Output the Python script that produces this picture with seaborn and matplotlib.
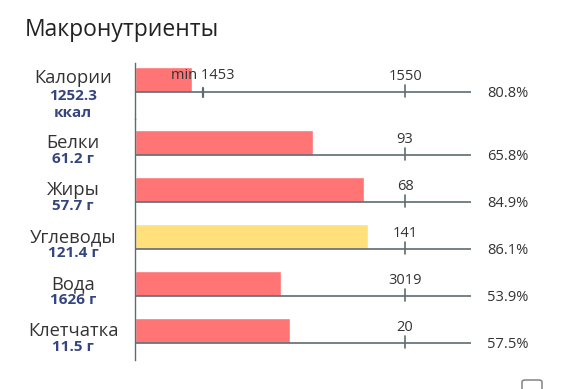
import matplotlib
matplotlib.use("Agg")
import matplotlib.pyplot as plt
import matplotlib.patches as mpatches
import pandas as pd
import seaborn as sns

# Data
nutrients = ["Калории", "Белки", "Жиры", "Углеводы", "Вода", "Клетчатка"]
amounts = ["1252.3\nккал", "61.2 г", "57.7 г", "121.4 г", "1626 г", "11.5 г"]
norms = ["1550", "93", "68", "141", "3019", "20"]
bar_pct = [21.1, 65.8, 84.9, 86.1, 53.9, 57.5]   # bar length, % of norm
pct_labels = ["80.8%", "65.8%", "84.9%", "86.1%", "53.9%", "57.5%"]
bar_kind = ["low", "low", "low", "ok", "low", "low"]
calorie_min = "min 1453"
calorie_min_pct = 25.2

RED = "#ff7474"
YELLOW = "#ffe07a"
LINE = "#5f6b73"
TEXT = "#333333"
BLUE = "#34457f"
PALETTE = {"low": RED, "ok": YELLOW}

sns.set_theme(style="white")
plt.rcParams["font.family"] = ["Open Sans", "DejaVu Sans"]

W, H = 571, 389
fig = plt.figure(figsize=(W / 100, H / 100), dpi=100)

df = pd.DataFrame({"name": nutrients, "amount": amounts, "norm": norms,
                   "pct": bar_pct, "label": pct_labels, "kind": bar_kind})

BAR_W = 25 / 47
X_MAX = 124.4


def px_axes(top, bottom):
    left, right = 135, 471
    return fig.add_axes([left / W, 1 - bottom / H, (right - left) / W, (bottom - top) / H])


ax_top = px_axes(63, 119)
ax_bot = px_axes(119, 360)

parts = [(ax_top, df.iloc[:1].reset_index(drop=True), (0.84, -0.351)),
         (ax_bot, df.iloc[1:].reset_index(drop=True), (4.62, -0.5))]

for ax, sub, ylim in parts:
    sns.barplot(data=sub, x="pct", y="name", hue="kind", palette=PALETTE,
                order=list(sub["name"]), orient="h", width=BAR_W, dodge=False,
                legend=False, ax=ax, saturation=1)
    ax.set_xlim(0, X_MAX)
    ax.set_ylim(*ylim)
    ax.set_xlabel("")
    ax.set_ylabel("")
    ax.set_xticks([])
    ax.set_yticks([])
    ax.set_facecolor("none")
    for s in ["top", "right", "bottom"]:
        ax.spines[s].set_visible(False)
    ax.spines["left"].set_color(LINE)
    ax.spines["left"].set_linewidth(1.0)
    ax.spines["left"].set_zorder(5)

    ytr = ax.get_yaxis_transform()
    for i, row in sub.iterrows():
        base = i + BAR_W / 2
        ax.axhline(base, color=LINE, lw=1.2, zorder=1)
        ax.plot([100, 100], [base - 7 / 47, base + 5 / 47], color=LINE, lw=1.2, zorder=1)
        ax.annotate(row["norm"], xy=(100, base), xytext=(0, 16), textcoords="offset pixels",
                    ha="center", va="center", fontsize=10.5, color=TEXT)
        ax.annotate(row["label"], xy=(1, base), xycoords=ytr, xytext=(16, -1),
                    textcoords="offset pixels", ha="left", va="center",
                    fontsize=10.5, color=TEXT, annotation_clip=False)
        dy = 14 if "\n" in row["amount"] else 12
        ax.annotate(row["name"], xy=(0, base), xycoords=ytr, xytext=(-62, dy),
                    textcoords="offset pixels", ha="center", va="center",
                    fontsize=13.2, color=TEXT, annotation_clip=False)
        ax.annotate(row["amount"], xy=(0, base), xycoords=ytr, xytext=(-62, 3),
                    textcoords="offset pixels", ha="center", va="top",
                    fontsize=11, fontweight="bold", color=BLUE,
                    linespacing=1.25, annotation_clip=False)

# min marker on the calories row
base0 = BAR_W / 2
ax_top.plot([calorie_min_pct, calorie_min_pct], [base0 - 4 / 47, base0 + 5 / 47],
            color=LINE, lw=1.6, zorder=6)
ax_top.annotate(calorie_min, xy=(calorie_min_pct, base0), xytext=(0, 17),
                textcoords="offset pixels", ha="center", va="center",
                fontsize=10.5, color=TEXT, zorder=7)

fig.text(25 / W, 1 - 30 / H, "Макронутриенты", fontsize=16.5, color="#222222",
         ha="left", va="center")
# next section's heading and control, cut by the bottom edge
fig.text(25 / W, 1 - 401 / H, "В", fontsize=16.5, color="#222222", ha="left", va="center")
fig.patches.append(mpatches.FancyBboxPatch((522 / W, 1 - 392 / H), 20 / W, 12 / H,
                                           boxstyle="round,pad=0,rounding_size=0.005",
                                           transform=fig.transFigure, fill=False,
                                           edgecolor="#777777", lw=1.0))

fig.savefig("out.png", dpi=100)
